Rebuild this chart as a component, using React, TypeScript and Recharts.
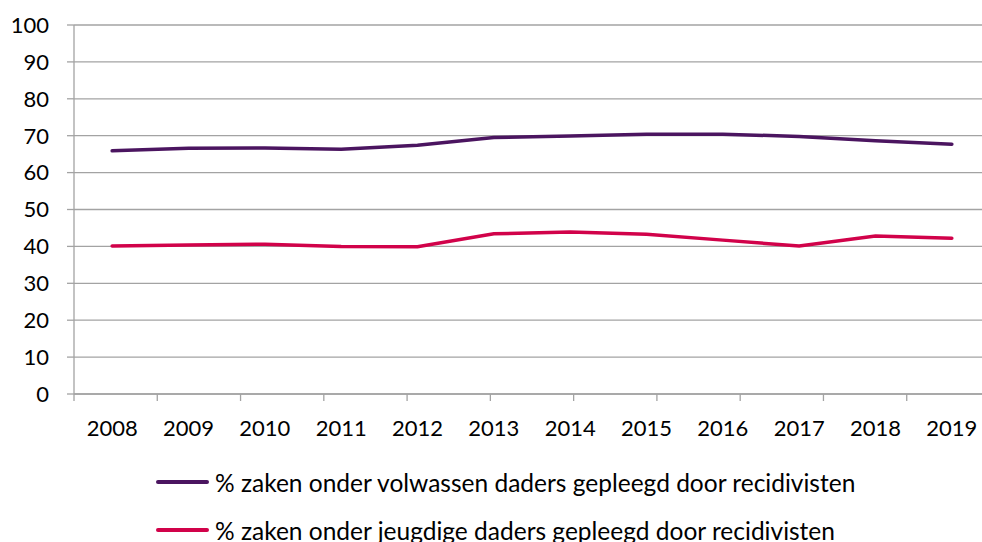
import { LineChart, Line, XAxis, YAxis, CartesianGrid } from "recharts"

const years = ["2008", "2009", "2010", "2011", "2012", "2013", "2014", "2015", "2016", "2017", "2018", "2019"]
const volwassen = [65.9, 66.6, 66.7, 66.3, 67.4, 69.5, 69.9, 70.4, 70.4, 69.8, 68.6, 67.7]
const jeugdig = [40.1, 40.4, 40.6, 40.0, 39.9, 43.4, 43.9, 43.3, 41.7, 40.1, 42.8, 42.2]
const yTicks = [0, 10, 20, 30, 40, 50, 60, 70, 80, 90, 100]
const bandTicks = [0, 1, 2, 3, 4, 5, 6, 7, 8, 9, 10, 11, 12]

const series = [
  { key: "volwassen", name: "% zaken onder volwassen daders gepleegd door recidivisten", color: "#4B1560" },
  { key: "jeugdig", name: "% zaken onder jeugdige daders gepleegd door recidivisten", color: "#D1024A" },
]

const data = years.map((year, i) => ({ year, volwassen: volwassen[i], jeugdig: jeugdig[i] }))

const font = "Lato, 'Open Sans', sans-serif"
const gray = "#a3a3a3"

export default function App() {
  return (
    <div
      style={{
        position: "absolute",
        left: 0,
        top: 0,
        width: 982,
        height: 542,
        overflow: "hidden",
        background: "#fff",
        fontFamily: font,
      }}
    >
      <LineChart width={1000} height={542} data={data} margin={{ top: 25, right: 10, left: 0, bottom: 118 }}>
        <CartesianGrid xAxisId="cat" vertical={false} stroke={gray} strokeWidth={1.3} />
        <XAxis
          xAxisId="band"
          type="number"
          domain={[0, 12]}
          ticks={bandTicks}
          allowDataOverflow
          tickFormatter={() => ""}
          tickSize={7}
          height={1}
          stroke={gray}
          strokeWidth={1.3}
        />
        <XAxis
          xAxisId="cat"
          dataKey="year"
          scale="band"
          axisLine={false}
          tickLine={false}
          tickSize={0}
          tickMargin={25}
          height={29}
          interval={0}
          tick={{ fill: "#000", fontSize: 22, fontFamily: font }}
        />
        <YAxis
          domain={[0, 100]}
          ticks={yTicks}
          width={74}
          tickSize={7}
          tickMargin={18}
          stroke={gray}
          strokeWidth={1.3}
          tick={{ fill: "#000", fontSize: 22, fontFamily: font }}
        />
        {series.map((s) => (
          <Line
            key={s.key}
            xAxisId="cat"
            type="linear"
            dataKey={s.key}
            name={s.name}
            stroke={s.color}
            strokeWidth={3.5}
            dot={false}
            strokeLinecap="round"
            isAnimationActive={false}
          />
        ))}
      </LineChart>
      <div style={{ position: "absolute", left: 156, top: 458 }}>
        {series.map((s) => (
          <div key={s.key} style={{ display: "flex", alignItems: "center", height: 48 }}>
            <div style={{ width: 53, height: 4, background: s.color, borderRadius: 2, marginRight: 6 }} />
            <span style={{ fontSize: 24.5, color: "#000", whiteSpace: "nowrap" }}>{s.name}</span>
          </div>
        ))}
      </div>
    </div>
  )
}
